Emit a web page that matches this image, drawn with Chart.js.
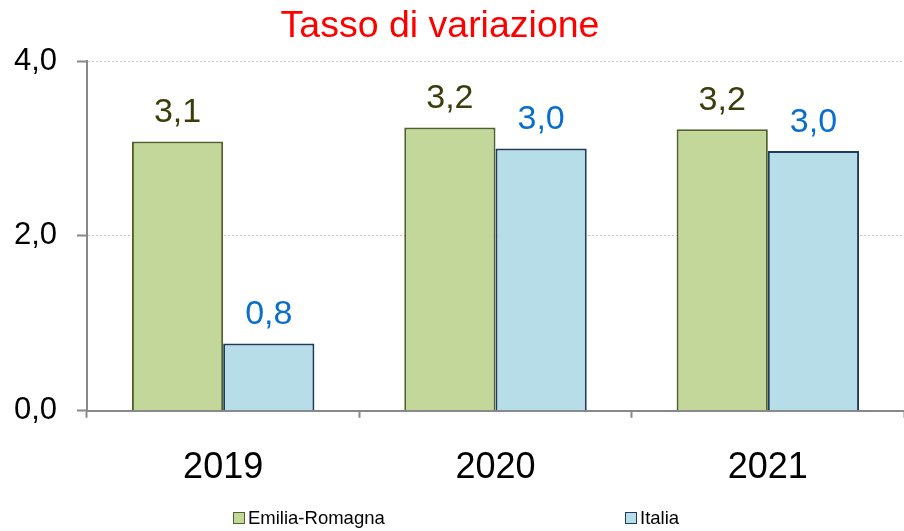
<!DOCTYPE html>
<html>
<head>
<meta charset="utf-8">
<script src="https://cdn.jsdelivr.net/npm/chart.js@4/dist/chart.umd.min.js"></script>
<style>
    html, body { margin: 0; padding: 0; background: #fff; }
    #wrap { position: relative; width: 904px; height: 531px; }
    #legend { position: absolute; left: 0; top: 508px; width: 904px; height: 22px; font-family: "Liberation Sans", Arial, sans-serif; font-size: 18.5px; color: #000; }
    .item { position: absolute; top: 0; white-space: nowrap; line-height: 20px; }
    .box { display: inline-block; width: 10px; height: 10px; margin-right: 3px; vertical-align: 0px; border: 1px solid; }
</style>
</head>
<body>
<div id="wrap">
    <canvas id="chart" width="904" height="531"></canvas>
    <div id="legend"></div>
</div>
<script>
"use strict";

var years = ["2019", "2020", "2021"];
var emiliaRomagna = [3.08, 3.24, 3.22];
var italia = [0.77, 3.0, 2.97];
var seriesNames = ["Emilia-Romagna", "Italia"];
var yTicks = [0, 2, 4];
var chartTitle = "Tasso di variazione";

var fontName = "'Liberation Sans', Arial, sans-serif";

function formatValue(v) {
    return v.toFixed(1).replace(".", ",");
}

// draws the value above each bar
var barLabels = {
    id: "barLabels",
    afterDatasetsDraw: function(chart) {
        var ctx = chart.ctx;
        ctx.save();
        ctx.font = "34px " + fontName;
        ctx.textAlign = "center";
        ctx.textBaseline = "alphabetic";
        chart.data.datasets.forEach(function(ds, i) {
            var meta = chart.getDatasetMeta(i);
            ctx.fillStyle = ds.labelColor;
            meta.data.forEach(function(bar, j) {
                ctx.fillText(formatValue(ds.data[j]), bar.x, bar.y - 19);
            });
        });
        ctx.restore();
    }
};

// title, a little left of the canvas centre like the original
var titleText = {
    id: "titleText",
    afterDraw: function(chart) {
        var ctx = chart.ctx;
        ctx.save();
        ctx.font = "37.5px " + fontName;
        ctx.fillStyle = "#ff0000";
        ctx.textAlign = "center";
        ctx.textBaseline = "alphabetic";
        ctx.fillText(chartTitle, 440, 37);
        ctx.restore();
    }
};

var chart = new Chart(document.getElementById("chart"), {
    type: "bar",
    data: {
        labels: years,
        datasets: [
            {
                label: seriesNames[0],
                data: emiliaRomagna,
                backgroundColor: "#c4d79b",
                borderColor: "#4f6228",
                borderWidth: 2,
                labelColor: "#3c3c0c",
                categoryPercentage: 0.67,
                barPercentage: 1.0
            },
            {
                label: seriesNames[1],
                data: italia,
                backgroundColor: "#b7dee8",
                borderColor: "#1f3a5f",
                borderWidth: 2,
                labelColor: "#0a6fcc",
                categoryPercentage: 0.67,
                barPercentage: 1.0
            }
        ]
    },
    options: {
        responsive: false,
        animation: false,
        layout: {
            padding: { left: 14, right: 0, top: 61, bottom: 12 }
        },
        plugins: {
            legend: { display: false },
            tooltip: { enabled: false },
            title: { display: false }
        },
        scales: {
            x: {
                offset: true,
                grid: {
                    offset: true,
                    drawOnChartArea: false,
                    tickLength: 7,
                    tickColor: "#888888",
                    tickWidth: 2
                },
                border: { color: "#888888", width: 2 },
                ticks: {
                    color: "#000",
                    font: { family: fontName, size: 36 },
                    padding: 29
                }
            },
            y: {
                min: 0,
                max: 4,
                afterBuildTicks: function(axis) {
                    axis.ticks = yTicks.map(function(v) { return { value: v }; });
                },
                afterFit: function(axis) {
                    axis.width = 73;
                },
                grid: {
                    color: "#c8c8c8",
                    lineWidth: 1,
                    tickLength: 10,
                    tickColor: "#888888",
                    tickWidth: 2,
                    tickBorderDash: []
                },
                border: { color: "#888888", width: 2, dash: [2, 2] },
                ticks: {
                    color: "#000",
                    font: { family: fontName, size: 31 },
                    padding: 20,
                    callback: function(v) { return formatValue(v); }
                }
            }
        }
    },
    plugins: [barLabels, titleText]
});

// legend below the chart
var legendPos = [233, 625];
var legend = document.getElementById("legend");
chart.data.datasets.forEach(function(ds, i) {
    var item = document.createElement("span");
    item.className = "item";
    item.style.left = legendPos[i] + "px";
    var box = document.createElement("span");
    box.className = "box";
    box.style.background = ds.backgroundColor;
    box.style.borderColor = ds.borderColor;
    item.appendChild(box);
    item.appendChild(document.createTextNode(ds.label));
    legend.appendChild(item);
});
</script>
</body>
</html>
